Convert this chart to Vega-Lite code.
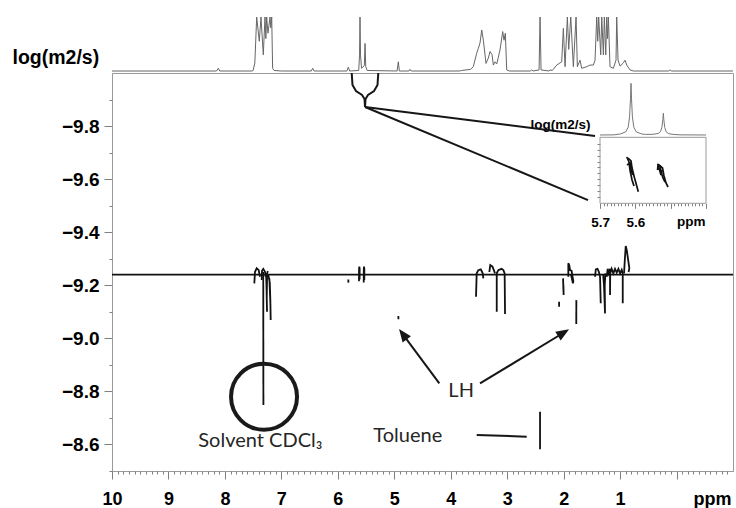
{
  "$schema": "https://vega.github.io/schema/vega-lite/v6.json",
  "width": 621,
  "height": 398,
  "autosize": {"type": "none"},
  "padding": {"left": 112, "top": 73, "right": 3, "bottom": 37},
  "background": "white",
  "config": {
    "view": {"stroke": "#9a9a9a", "strokeWidth": 1},
    "axis": {"grid": false, "domainColor": "#9a9a9a", "tickColor": "#808080", "labelColor": "#000", "titleColor": "#000", "labelFont": "Liberation Sans", "titleFont": "Liberation Sans", "labelFontWeight": "bold", "titleFontWeight": "bold", "labelOverlap": false, "labelFlush": false}
  },
  "datasets": {
    "spec": [
      {"ppm": 10.0, "I": 0}, {"ppm": 8.15, "I": 0}, {"ppm": 8.117, "I": 0.05}, {"ppm": 8.09, "I": 0},
      {"ppm": 7.52, "I": 0}, {"ppm": 7.50, "I": 0.01}, {"ppm": 7.47, "I": 0.15}, {"ppm": 7.437, "I": 1}, {"ppm": 7.391, "I": 0.55}, {"ppm": 7.361, "I": 1}, {"ppm": 7.32, "I": 0.3}, {"ppm": 7.29, "I": 1}, {"ppm": 7.275, "I": 0.6}, {"ppm": 7.26, "I": 1}, {"ppm": 7.237, "I": 0.7}, {"ppm": 7.201, "I": 1}, {"ppm": 7.186, "I": 0.8}, {"ppm": 7.171, "I": 1}, {"ppm": 7.155, "I": 0.05}, {"ppm": 7.13, "I": 0.01}, {"ppm": 7.0, "I": 0},
      {"ppm": 6.47, "I": 0}, {"ppm": 6.445, "I": 0.05}, {"ppm": 6.42, "I": 0},
      {"ppm": 5.84, "I": 0}, {"ppm": 5.814, "I": 0.07}, {"ppm": 5.79, "I": 0},
      {"ppm": 5.63, "I": 0.01}, {"ppm": 5.615, "I": 0.3}, {"ppm": 5.607, "I": 1}, {"ppm": 5.598, "I": 0.3}, {"ppm": 5.58, "I": 0.05}, {"ppm": 5.53, "I": 0.1}, {"ppm": 5.518, "I": 0.51}, {"ppm": 5.505, "I": 0.08}, {"ppm": 5.48, "I": 0.01},
      {"ppm": 4.95, "I": 0}, {"ppm": 4.928, "I": 0.17}, {"ppm": 4.91, "I": 0},
      {"ppm": 4.74, "I": 0}, {"ppm": 4.721, "I": 0.03}, {"ppm": 4.70, "I": 0},
      {"ppm": 3.85, "I": 0}, {"ppm": 3.805, "I": 0.01}, {"ppm": 3.65, "I": 0.03}, {"ppm": 3.6, "I": 0.08}, {"ppm": 3.54, "I": 0.33}, {"ppm": 3.511, "I": 0.42}, {"ppm": 3.481, "I": 0.52}, {"ppm": 3.451, "I": 0.76}, {"ppm": 3.422, "I": 0.57}, {"ppm": 3.375, "I": 0.14}, {"ppm": 3.334, "I": 0.24}, {"ppm": 3.304, "I": 0.36}, {"ppm": 3.268, "I": 0.3}, {"ppm": 3.245, "I": 0.11}, {"ppm": 3.215, "I": 0.17}, {"ppm": 3.185, "I": 0.13}, {"ppm": 3.127, "I": 0.39}, {"ppm": 3.079, "I": 0.73}, {"ppm": 3.056, "I": 0.57}, {"ppm": 3.033, "I": 0.7}, {"ppm": 3.008, "I": 0.02}, {"ppm": 2.962, "I": 0},
      {"ppm": 2.59, "I": 0}, {"ppm": 2.565, "I": 0.02}, {"ppm": 2.54, "I": 0},
      {"ppm": 2.435, "I": 0.02}, {"ppm": 2.418, "I": 1}, {"ppm": 2.40, "I": 0.02},
      {"ppm": 2.26, "I": 0}, {"ppm": 2.241, "I": 0.02}, {"ppm": 2.2, "I": 0.01}, {"ppm": 2.122, "I": 0.11}, {"ppm": 2.064, "I": 0.15}, {"ppm": 2.034, "I": 0.17}, {"ppm": 2.005, "I": 0.79}, {"ppm": 1.975, "I": 0.08}, {"ppm": 1.934, "I": 1}, {"ppm": 1.91, "I": 0.4}, {"ppm": 1.874, "I": 1}, {"ppm": 1.828, "I": 0.08}, {"ppm": 1.78, "I": 1}, {"ppm": 1.757, "I": 0.08}, {"ppm": 1.71, "I": 0.2}, {"ppm": 1.68, "I": 0.05}, {"ppm": 1.591, "I": 0.08}, {"ppm": 1.532, "I": 0.11}, {"ppm": 1.474, "I": 0.11}, {"ppm": 1.444, "I": 0.2}, {"ppm": 1.414, "I": 1}, {"ppm": 1.396, "I": 0.55}, {"ppm": 1.379, "I": 1}, {"ppm": 1.343, "I": 0.3}, {"ppm": 1.325, "I": 1}, {"ppm": 1.296, "I": 0.3}, {"ppm": 1.279, "I": 1}, {"ppm": 1.254, "I": 0.3}, {"ppm": 1.237, "I": 1}, {"ppm": 1.222, "I": 0.6}, {"ppm": 1.208, "I": 1}, {"ppm": 1.178, "I": 0.08}, {"ppm": 1.119, "I": 0.05}, {"ppm": 1.072, "I": 0.2}, {"ppm": 1.06, "I": 1}, {"ppm": 1.036, "I": 0.2}, {"ppm": 1.001, "I": 0.09}, {"ppm": 0.942, "I": 0.15}, {"ppm": 0.912, "I": 0.2}, {"ppm": 0.882, "I": 0.11}, {"ppm": 0.824, "I": 0.02}, {"ppm": 0.765, "I": 0},
      {"ppm": 0.14, "I": 0}, {"ppm": 0.115, "I": 0.02}, {"ppm": 0.09, "I": 0}, {"ppm": -1.0, "I": 0}
    ],
    "contours": [
      {"c": "a1", "ppm": 7.479, "logD": -9.207}, {"c": "a1", "ppm": 7.467, "logD": -9.251}, {"c": "a1", "ppm": 7.437, "logD": -9.264}, {"c": "a1", "ppm": 7.401, "logD": -9.257}, {"c": "a1", "ppm": 7.391, "logD": -9.245}, {"c": "a1", "ppm": 7.378, "logD": -9.232},
      {"c": "a2", "ppm": 7.348, "logD": -9.220}, {"c": "a2", "ppm": 7.343, "logD": -9.255}, {"c": "a2", "ppm": 7.320, "logD": -9.262}, {"c": "a2", "ppm": 7.290, "logD": -9.251}, {"c": "a2", "ppm": 7.277, "logD": -9.232},
      {"c": "sol", "ppm": 7.321, "logD": -9.250}, {"c": "sol", "ppm": 7.318, "logD": -8.749},
      {"c": "a3", "ppm": 7.270, "logD": -9.245}, {"c": "a3", "ppm": 7.262, "logD": -9.180}, {"c": "a3", "ppm": 7.254, "logD": -9.100}, {"c": "a3", "ppm": 7.259, "logD": -9.150}, {"c": "a3", "ppm": 7.252, "logD": -9.245}, {"c": "a3", "ppm": 7.240, "logD": -9.254},
      {"c": "a4", "ppm": 7.231, "logD": -9.239}, {"c": "a4", "ppm": 7.205, "logD": -9.210}, {"c": "a4", "ppm": 7.196, "logD": -9.150}, {"c": "a4", "ppm": 7.189, "logD": -9.069}, {"c": "a4", "ppm": 7.194, "logD": -9.130}, {"c": "a4", "ppm": 7.212, "logD": -9.225},
      {"c": "b0", "ppm": 5.814, "logD": -9.222}, {"c": "b0", "ppm": 5.812, "logD": -9.210},
      {"c": "b1", "ppm": 5.625, "logD": -9.215}, {"c": "b1", "ppm": 5.624, "logD": -9.262}, {"c": "b1", "ppm": 5.619, "logD": -9.270}, {"c": "b1", "ppm": 5.613, "logD": -9.262}, {"c": "b1", "ppm": 5.614, "logD": -9.222},
      {"c": "b2", "ppm": 5.541, "logD": -9.210}, {"c": "b2", "ppm": 5.540, "logD": -9.262}, {"c": "b2", "ppm": 5.536, "logD": -9.270}, {"c": "b2", "ppm": 5.530, "logD": -9.260}, {"c": "b2", "ppm": 5.531, "logD": -9.220},
      {"c": "dot", "ppm": 4.928, "logD": -9.084}, {"c": "dot", "ppm": 4.926, "logD": -9.072},
      {"c": "c1", "ppm": 3.552, "logD": -9.157}, {"c": "c1", "ppm": 3.545, "logD": -9.210}, {"c": "c1", "ppm": 3.540, "logD": -9.245}, {"c": "c1", "ppm": 3.511, "logD": -9.257}, {"c": "c1", "ppm": 3.468, "logD": -9.260}, {"c": "c1", "ppm": 3.433, "logD": -9.245}, {"c": "c1", "ppm": 3.422, "logD": -9.226},
      {"c": "c2", "ppm": 3.316, "logD": -9.250}, {"c": "c2", "ppm": 3.300, "logD": -9.276}, {"c": "c2", "ppm": 3.260, "logD": -9.270}, {"c": "c2", "ppm": 3.215, "logD": -9.245},
      {"c": "c3", "ppm": 3.185, "logD": -9.100}, {"c": "c3", "ppm": 3.185, "logD": -9.245}, {"c": "c3", "ppm": 3.157, "logD": -9.257}, {"c": "c3", "ppm": 3.100, "logD": -9.262}, {"c": "c3", "ppm": 3.068, "logD": -9.257}, {"c": "c3", "ppm": 3.045, "logD": -9.245}, {"c": "c3", "ppm": 3.038, "logD": -9.092},
      {"c": "d1", "ppm": 2.010, "logD": -9.226}, {"c": "d1", "ppm": 2.005, "logD": -9.190}, {"c": "d1", "ppm": 2.000, "logD": -9.163}, {"c": "d1", "ppm": 2.004, "logD": -9.200},
      {"c": "d2", "ppm": 2.081, "logD": -9.138}, {"c": "d2", "ppm": 2.080, "logD": -9.119},
      {"c": "d3", "ppm": 1.917, "logD": -9.232}, {"c": "d3", "ppm": 1.917, "logD": -9.283}, {"c": "d3", "ppm": 1.900, "logD": -9.275}, {"c": "d3", "ppm": 1.887, "logD": -9.257}, {"c": "d3", "ppm": 1.860, "logD": -9.255}, {"c": "d3", "ppm": 1.828, "logD": -9.215}, {"c": "d3", "ppm": 1.835, "logD": -9.207}, {"c": "d3", "ppm": 1.870, "logD": -9.240},
      {"c": "d4", "ppm": 1.775, "logD": -9.144}, {"c": "d4", "ppm": 1.776, "logD": -9.054},
      {"c": "e1", "ppm": 1.444, "logD": -9.232}, {"c": "e1", "ppm": 1.430, "logD": -9.260}, {"c": "e1", "ppm": 1.400, "logD": -9.262}, {"c": "e1", "ppm": 1.375, "logD": -9.250}, {"c": "e1", "ppm": 1.355, "logD": -9.232}, {"c": "e1", "ppm": 1.343, "logD": -9.132},
      {"c": "e2", "ppm": 1.300, "logD": -9.240}, {"c": "e2", "ppm": 1.285, "logD": -9.200}, {"c": "e2", "ppm": 1.267, "logD": -9.094}, {"c": "e2", "ppm": 1.272, "logD": -9.200}, {"c": "e2", "ppm": 1.260, "logD": -9.245},
      {"c": "e3", "ppm": 1.237, "logD": -9.232}, {"c": "e3", "ppm": 1.220, "logD": -9.262}, {"c": "e3", "ppm": 1.200, "logD": -9.245}, {"c": "e3", "ppm": 1.178, "logD": -9.262}, {"c": "e3", "ppm": 1.178, "logD": -9.163}, {"c": "e3", "ppm": 1.175, "logD": -9.245}, {"c": "e3", "ppm": 1.150, "logD": -9.262}, {"c": "e3", "ppm": 1.120, "logD": -9.245}, {"c": "e3", "ppm": 1.090, "logD": -9.262}, {"c": "e3", "ppm": 1.060, "logD": -9.248}, {"c": "e3", "ppm": 1.030, "logD": -9.262}, {"c": "e3", "ppm": 1.000, "logD": -9.245}, {"c": "e3", "ppm": 0.971, "logD": -9.258}, {"c": "e3", "ppm": 0.953, "logD": -9.245}, {"c": "e3", "ppm": 0.953, "logD": -9.132},
      {"c": "e4", "ppm": 0.930, "logD": -9.245}, {"c": "e4", "ppm": 0.915, "logD": -9.300}, {"c": "e4", "ppm": 0.900, "logD": -9.348}, {"c": "e4", "ppm": 0.880, "logD": -9.330}, {"c": "e4", "ppm": 0.836, "logD": -9.264}, {"c": "e4", "ppm": 0.850, "logD": -9.250},
      {"c": "tol", "ppm": 2.418, "logD": -8.7233}, {"c": "tol", "ppm": 2.418, "logD": -8.5816}
    ],
    "ann": [
      {"c": "brace", "ppm": 5.754, "logD": -10.0}, {"c": "brace", "ppm": 5.740, "logD": -9.955}, {"c": "brace", "ppm": 5.678, "logD": -9.932}, {"c": "brace", "ppm": 5.571, "logD": -9.917}, {"c": "brace", "ppm": 5.527, "logD": -9.902}, {"c": "brace", "ppm": 5.518, "logD": -9.872}, {"c": "brace", "ppm": 5.509, "logD": -9.902}, {"c": "brace", "ppm": 5.465, "logD": -9.917}, {"c": "brace", "ppm": 5.359, "logD": -9.932}, {"c": "brace", "ppm": 5.297, "logD": -9.955}, {"c": "brace", "ppm": 5.283, "logD": -10.0},
      {"c": "con1", "ppm": 5.518, "logD": -9.872}, {"c": "con1", "ppm": 1.444, "logD": -9.763},
      {"c": "con2", "ppm": 5.518, "logD": -9.872}, {"c": "con2", "ppm": 1.568, "logD": -9.521},
      {"c": "arrL", "ppm": 4.202, "logD": -8.830}, {"c": "arrL", "ppm": 4.847, "logD": -9.015},
      {"c": "arrR", "ppm": 3.481, "logD": -8.830}, {"c": "arrR", "ppm": 2.002, "logD": -9.021},
      {"c": "tolp", "ppm": 3.540, "logD": -8.6355}, {"c": "tolp", "ppm": 2.654, "logD": -8.6295}
    ],
    "heads": [
      {"c": "L", "ppm": 4.847, "logD": -9.0154},
      {"c": "R", "ppm": 2.0017, "logD": -9.0211}
    ],
    "circle": [{"ppm": 7.307, "logD": -8.780}],
    "labels": [
      {"txt": "Solvent CDCl₃", "ppm": 8.471, "logD": -8.589},
      {"txt": "Toluene", "ppm": 5.371, "logD": -8.610},
      {"txt": "LH", "ppm": 4.042, "logD": -8.780}
    ],
    "ibox": [{"x1": 5.7, "x2": 5.4, "y1": 0, "y2": 1}],
    "ispec": [
      {"ix": 5.7, "iy": 1.035}, {"ix": 5.66, "iy": 1.037}, {"ix": 5.6423, "iy": 1.051}, {"ix": 5.6273, "iy": 1.082}, {"ix": 5.6203, "iy": 1.152}, {"ix": 5.6163, "iy": 1.309}, {"ix": 5.6138, "iy": 1.583}, {"ix": 5.6123, "iy": 1.818}, {"ix": 5.6108, "iy": 1.583}, {"ix": 5.6083, "iy": 1.309}, {"ix": 5.6043, "iy": 1.152}, {"ix": 5.5973, "iy": 1.082}, {"ix": 5.5823, "iy": 1.051}, {"ix": 5.5708, "iy": 1.044}, {"ix": 5.5508, "iy": 1.045}, {"ix": 5.5358, "iy": 1.057}, {"ix": 5.5288, "iy": 1.086}, {"ix": 5.5248, "iy": 1.15}, {"ix": 5.5223, "iy": 1.265}, {"ix": 5.5208, "iy": 1.364}, {"ix": 5.5193, "iy": 1.265}, {"ix": 5.5168, "iy": 1.15}, {"ix": 5.5128, "iy": 1.084}, {"ix": 5.5058, "iy": 1.055}, {"ix": 5.4908, "iy": 1.042}, {"ix": 5.4708, "iy": 1.037}, {"ix": 5.4, "iy": 1.035}
    ],
    "icont": [
      {"c": "s1", "ix": 5.6244, "iy": 0.7015}, {"c": "s1", "ix": 5.6179, "iy": 0.6258}, {"c": "s1", "ix": 5.6151, "iy": 0.5045}, {"c": "s1", "ix": 5.6094, "iy": 0.353}, {"c": "s1", "ix": 5.6038, "iy": 0.2621},
      {"c": "s2", "ix": 5.6207, "iy": 0.6864}, {"c": "s2", "ix": 5.6123, "iy": 0.6409}, {"c": "s2", "ix": 5.6094, "iy": 0.5348}, {"c": "s2", "ix": 5.6023, "iy": 0.3833}, {"c": "s2", "ix": 5.5916, "iy": 0.1758},
      {"c": "s3", "ix": 5.6236, "iy": 0.5803}, {"c": "s3", "ix": 5.6151, "iy": 0.6106}, {"c": "s3", "ix": 5.6108, "iy": 0.4742}, {"c": "s3", "ix": 5.6066, "iy": 0.4288}, {"c": "s3", "ix": 5.6151, "iy": 0.5348},
      {"c": "s4", "ix": 5.5378, "iy": 0.5955}, {"c": "s4", "ix": 5.5302, "iy": 0.5652}, {"c": "s4", "ix": 5.5273, "iy": 0.4742}, {"c": "s4", "ix": 5.5217, "iy": 0.3833}, {"c": "s4", "ix": 5.516, "iy": 0.3227},
      {"c": "s5", "ix": 5.533, "iy": 0.5803}, {"c": "s5", "ix": 5.5231, "iy": 0.5348}, {"c": "s5", "ix": 5.5189, "iy": 0.4136}, {"c": "s5", "ix": 5.5132, "iy": 0.3076}, {"c": "s5", "ix": 5.5075, "iy": 0.247},
      {"c": "s6", "ix": 5.5372, "iy": 0.5045}, {"c": "s6", "ix": 5.5358, "iy": 0.5803}, {"c": "s6", "ix": 5.5273, "iy": 0.4288}, {"c": "s6", "ix": 5.5245, "iy": 0.5045}
    ]
  },
  "resolve": {"scale": {"x": "independent", "y": "independent"}},
  "layer": [
    {
      "resolve": {"axis": {"x": "independent", "y": "independent"}},
      "layer": [
        {
          "data": {"name": "contours"},
          "transform": [{"window": [{"op": "row_number", "as": "o"}]}],
          "mark": {"type": "line", "color": "#111", "strokeWidth": 1.8},
          "encoding": {
            "x": {"field": "ppm", "type": "quantitative",
              "scale": {"domain": [-1, 10], "reverse": true, "nice": false, "zero": false},
              "axis": {
                "orient": "bottom",
                "values": [0,1,2,3,4,5,6,7,8,9,10],
                "tickSize": 8,
                "labelExpr": "datum.value > 0.5 ? format(datum.value, 'd') : ''",
                "labelFontSize": 18,
                "labelPadding": 11,
                "title": "ppm",
                "titleFontSize": 18,
                "titleX": 619,
                "titleY": 33,
                "titleAlign": "right",
                "titleBaseline": "alphabetic"
              }
            },
            "y": {"field": "logD", "type": "quantitative",
              "scale": {"domain": [-10, -8.5], "reverse": true, "nice": false, "zero": false},
              "axis": {
                "orient": "left",
                "values": [-9.8,-9.6,-9.4,-9.2,-9.0,-8.8,-8.6],
                "tickSize": 8,
                "format": ".1f",
                "labelFontSize": 19,
                "labelPadding": 5,
                "title": "log(m2/s)",
                "titleFontSize": 19.5,
                "titleAngle": 0,
                "titleAlign": "left",
                "titleBaseline": "alphabetic",
                "titleX": -100,
                "titleY": -10
              }
            },
            "detail": {"field": "c"},
            "order": {"field": "o"}
          }
        },
        {
          "data": {"values": [{}]},
          "mark": {"type": "rule", "color": "#111", "strokeWidth": 1.6},
          "encoding": {"y": {"datum": -9.24, "type": "quantitative", "axis": null}}
        },
        {
          "data": {"name": "ann"},
          "transform": [{"window": [{"op": "row_number", "as": "o"}]}],
          "mark": {"type": "line", "color": "#161616", "strokeWidth": 2},
          "encoding": {
            "x": {"field": "ppm", "type": "quantitative",
              "axis": {
                "orient": "bottom",
                "domain": false,
                "labels": false,
                "title": null,
                "tickSize": 3,
                "values": [-0.9,-0.8,-0.7,-0.6,-0.5,-0.4,-0.3,-0.2,-0.1,0.1,0.2,0.3,0.4,0.5,0.6,0.7,0.8,0.9,1.1,1.2,1.3,1.4,1.5,1.6,1.7,1.8,1.9,2.1,2.2,2.3,2.4,2.5,2.6,2.7,2.8,2.9,3.1,3.2,3.3,3.4,3.5,3.6,3.7,3.8,3.9,4.1,4.2,4.3,4.4,4.5,4.6,4.7,4.8,4.9,5.1,5.2,5.3,5.4,5.5,5.6,5.7,5.8,5.9,6.1,6.2,6.3,6.4,6.5,6.6,6.7,6.8,6.9,7.1,7.2,7.3,7.4,7.5,7.6,7.7,7.8,7.9,8.1,8.2,8.3,8.4,8.5,8.6,8.7,8.8,8.9,9.1,9.2,9.3,9.4,9.5,9.6,9.7,9.8,9.9]
              }
            },
            "y": {"field": "logD", "type": "quantitative",
              "axis": {
                "orient": "left",
                "domain": false,
                "labels": false,
                "title": null,
                "tickSize": 3,
                "values": [-9.9,-9.7,-9.5,-9.3,-9.1,-8.9,-8.7,-8.5]
              }
            },
            "detail": {"field": "c"},
            "order": {"field": "o"}
          }
        },
        {
          "data": {"name": "heads"},
          "transform": [{"filter": "datum.c == 'L'"}],
          "mark": {"type": "point", "shape": "M0,-1L0.8,1L-0.8,1Z", "filled": true, "size": 169, "angle": 323.4, "color": "#161616", "opacity": 1},
          "encoding": {
            "x": {"field": "ppm", "type": "quantitative", "axis": null},
            "y": {"field": "logD", "type": "quantitative", "axis": null}
          }
        },
        {
          "data": {"name": "heads"},
          "transform": [{"filter": "datum.c == 'R'"}],
          "mark": {"type": "point", "shape": "M0,-1L0.8,1L-0.8,1Z", "filled": true, "size": 169, "angle": 58.5, "color": "#161616", "opacity": 1},
          "encoding": {
            "x": {"field": "ppm", "type": "quantitative", "axis": null},
            "y": {"field": "logD", "type": "quantitative", "axis": null}
          }
        },
        {
          "data": {"name": "circle"},
          "mark": {"type": "point", "shape": "circle", "filled": false, "size": 4356, "strokeWidth": 4, "color": "#1a1a1a", "opacity": 1},
          "encoding": {
            "x": {"field": "ppm", "type": "quantitative", "axis": null},
            "y": {"field": "logD", "type": "quantitative", "axis": null}
          }
        },
        {
          "data": {"name": "labels"},
          "mark": {"type": "text", "font": "Lato", "fontSize": 20, "align": "left", "baseline": "alphabetic", "color": "#262626"},
          "encoding": {
            "x": {"field": "ppm", "type": "quantitative", "axis": null},
            "y": {"field": "logD", "type": "quantitative", "axis": null},
            "text": {"field": "txt"}
          }
        }
      ]
    },
    {
      "data": {"name": "spec"},
      "mark": {"type": "line", "color": "#666", "strokeWidth": 1},
      "encoding": {
        "x": {"field": "ppm", "type": "quantitative", "scale": {"domain": [-1, 10], "reverse": true, "nice": false, "zero": false}, "axis": null},
        "y": {"field": "I", "type": "quantitative", "scale": {"domain": [-7.4074, -0.037], "nice": false, "zero": false}, "axis": null}
      }
    },
    {
      "resolve": {"axis": {"x": "independent", "y": "independent"}},
      "layer": [
        {
          "data": {"name": "ibox"},
          "mark": {"type": "rect", "fill": "white", "fillOpacity": 0, "stroke": "#9a9a9a", "strokeWidth": 1},
          "encoding": {
            "x": {"field": "x1", "type": "quantitative",
              "scale": {"domain": [5.3236, 7.0813], "reverse": true, "nice": false, "zero": false},
              "axis": {
                "orient": "bottom",
                "offset": -267.7,
                "domain": false,
                "values": [5.4, 5.5, 5.6, 5.7],
                "tickSize": 5,
                "labelExpr": "datum.value > 5.55 ? format(datum.value, '.1f') : ''",
                "labelFontSize": 13.5,
                "labelPadding": 7,
                "title": "ppm",
                "titleFontSize": 13.5,
                "titleX": 593,
                "titleY": 22,
                "titleAlign": "right",
                "titleBaseline": "alphabetic"
              }
            },
            "x2": {"field": "x2"},
            "y": {"field": "y1", "type": "quantitative",
              "scale": {"domain": [-4.0561, 1.9742], "nice": false, "zero": false},
              "axis": {
                "orient": "left",
                "offset": -488,
                "domain": false,
                "labels": false,
                "values": [0.1,0.189,0.278,0.367,0.456,0.544,0.633,0.722,0.811,0.9],
                "tickSize": 3,
                "title": "log(m2/s)",
                "titleFontSize": 13.5,
                "titleAngle": 0,
                "titleAlign": "right",
                "titleBaseline": "alphabetic",
                "titleX": -10,
                "titleY": 55
              }
            },
            "y2": {"field": "y2"}
          }
        },
        {
          "data": {"name": "ispec"},
          "mark": {"type": "line", "color": "#777", "strokeWidth": 1},
          "encoding": {
            "x": {"field": "ix", "type": "quantitative",
              "axis": {
                "orient": "bottom",
                "offset": -267.7,
                "domain": false,
                "labels": false,
                "title": null,
                "tickSize": 2.5,
                "values": [5.41,5.42,5.43,5.44,5.45,5.46,5.47,5.48,5.49,5.51,5.52,5.53,5.54,5.55,5.56,5.57,5.58,5.59,5.61,5.62,5.63,5.64,5.65,5.66,5.67,5.68,5.69]
              }
            },
            "y": {"field": "iy", "type": "quantitative", "axis": null}
          }
        },
        {
          "data": {"name": "icont"},
          "transform": [{"window": [{"op": "row_number", "as": "o"}]}],
          "mark": {"type": "line", "color": "#111", "strokeWidth": 1.7},
          "encoding": {
            "x": {"field": "ix", "type": "quantitative", "axis": null},
            "y": {"field": "iy", "type": "quantitative", "axis": null},
            "detail": {"field": "c"},
            "order": {"field": "o"}
          }
        }
      ]
    }
  ]
}
